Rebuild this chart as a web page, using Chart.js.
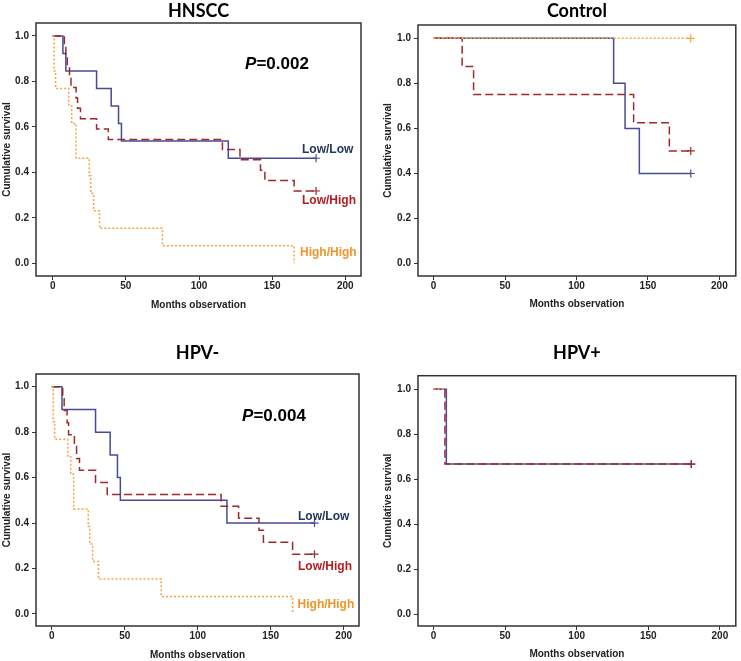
<!DOCTYPE html>
<html>
<head>
<meta charset="utf-8">
<script src="https://cdn.jsdelivr.net/npm/chart.js@4.4.1/dist/chart.umd.min.js"></script>
<style>
  body { margin: 0; background: #fff; }
  #wrap { position: relative; width: 741px; height: 661px; overflow: hidden; }
  canvas { position: absolute; }
</style>
</head>
<body>
<div id="wrap">
  <canvas id="hnscc" width="370" height="320" style="left:0;top:0;width:370px;height:320px"></canvas>
  <canvas id="control" width="371" height="320" style="left:370px;top:0;width:371px;height:320px"></canvas>
  <canvas id="hpvneg" width="370" height="341" style="left:0;top:320px;width:370px;height:341px"></canvas>
  <canvas id="hpvpos" width="371" height="341" style="left:370px;top:320px;width:371px;height:341px"></canvas>
</div>
<script>
// tick labels
const xTicks = [0, 50, 100, 150, 200];
const yTicks = [0, 0.2, 0.4, 0.6, 0.8, 1.0];
const groups = ['Low/Low', 'Low/High', 'High/High'];

// HNSCC (months, cumulative survival)
const hnsccLowLowMonths = [0, 7, 9, 30, 40, 45, 47, 120, 180];
const hnsccLowLowSurv = [1, 0.923, 0.846, 0.769, 0.692, 0.615, 0.538, 0.462, 0.462];
const hnsccLowHighMonths = [0, 8, 9, 10, 11.5, 12.5, 16, 17, 19, 30, 38, 116, 128, 142, 145, 165, 180];
const hnsccLowHighSurv = [1, 0.955, 0.909, 0.864, 0.818, 0.773, 0.727, 0.682, 0.636, 0.591, 0.545, 0.5, 0.455, 0.409, 0.364, 0.318, 0.318];
const hnsccHighHighMonths = [0, 1, 2, 11, 13, 16, 25, 26, 28, 32, 75, 165];
const hnsccHighHighSurv = [1, 0.846, 0.769, 0.692, 0.615, 0.462, 0.385, 0.308, 0.231, 0.154, 0.077, 0];

// Control
const controlLowLowMonths = [0, 126, 134, 144, 180];
const controlLowLowSurv = [1, 0.8, 0.6, 0.4, 0.4];
const controlLowHighMonths = [0, 20, 28, 140, 165, 180];
const controlLowHighSurv = [1, 0.875, 0.75, 0.625, 0.5, 0.5];
const controlHighHighMonths = [0, 180];
const controlHighHighSurv = [1, 1];

// HPV-
const hpvNegLowLowMonths = [0, 7, 30, 40, 45, 47, 120, 180];
const hpvNegLowLowSurv = [1, 0.9, 0.8, 0.7, 0.6, 0.5, 0.4, 0.4];
const hpvNegLowHighMonths = [0, 7.5, 8.5, 10.5, 11.5, 15.5, 17, 19, 30, 38, 116, 128, 142, 145, 165, 180];
const hpvNegLowHighSurv = [1, 0.947, 0.895, 0.842, 0.789, 0.737, 0.684, 0.632, 0.579, 0.526, 0.474, 0.421, 0.368, 0.316, 0.263, 0.263];
const hpvNegHighHighMonths = [0, 1, 2, 11, 13, 15, 25, 26, 28, 32, 75, 165];
const hpvNegHighHighSurv = [1, 0.846, 0.769, 0.692, 0.615, 0.462, 0.385, 0.308, 0.231, 0.154, 0.077, 0];

// HPV+
const hpvPosLowLowMonths = [0, 9, 180];
const hpvPosLowLowSurv = [1, 0.667, 0.667];
const hpvPosLowHighMonths = [0, 8, 180];
const hpvPosLowHighSurv = [1, 0.667, 0.667];
const hpvPosHighHighMonths = [0, 8];
const hpvPosHighHighSurv = [1, 1];

const BLUE = '#474b96';
const RED = '#a0282c';
const ORANGE = '#f5a440';
const axisFont = { family: 'Liberation Sans', size: 10, weight: 'bold' };

function curve(label, months, surv, color, dash, censored) {
  const last = months.length - 1;
  return {
    label: label,
    data: months.map((m, i) => ({ x: m, y: surv[i] })),
    stepped: 'before',
    borderColor: color,
    backgroundColor: color,
    borderWidth: 1.5,
    borderDash: dash,
    fill: false,
    pointStyle: 'cross',
    pointBorderWidth: 1.2,
    pointRadius: ctx => (censored && ctx.dataIndex === last) ? 4 : 0,
    pointHoverRadius: 0
  };
}

const frame = {
  id: 'frame',
  beforeDatasetsDraw(chart) {
    const { ctx, chartArea: a } = chart;
    ctx.save();
    ctx.strokeStyle = '#333';
    ctx.lineWidth = 1.5;
    ctx.strokeRect(a.left, a.top, a.right - a.left, a.bottom - a.top);
    ctx.restore();
  }
};

const notes = {
  id: 'notes',
  afterDatasetsDraw(chart, args, opts) {
    const { ctx, scales } = chart;
    (opts.items || []).forEach(n => {
      const px = scales.x.getPixelForValue(n.x);
      const py = scales.y.getPixelForValue(n.y);
      ctx.save();
      ctx.textBaseline = 'middle';
      ctx.textAlign = 'left';
      ctx.fillStyle = n.color;
      let x = px;
      if (n.italic) {
        ctx.font = 'italic bold ' + n.size + 'px "Liberation Sans"';
        ctx.fillText(n.italic, x, py);
        x += ctx.measureText(n.italic).width;
      }
      ctx.font = 'bold ' + n.size + 'px "Liberation Sans"';
      ctx.fillText(n.text, x, py);
      ctx.restore();
    });
  }
};

function makeChart(id, title, datasets, box, items) {
  new Chart(document.getElementById(id), {
    type: 'line',
    data: { datasets: datasets },
    plugins: [frame, notes],
    options: {
      responsive: false,
      animation: false,
      events: [],
      layout: { padding: { left: 0, right: box.padRight, top: 0, bottom: 0 } },
      plugins: {
        legend: { display: false },
        tooltip: { enabled: false },
        title: {
          display: true,
          text: title,
          fullSize: false,
          color: '#000',
          font: { family: 'Lato', size: 18, weight: 'bold', lineHeight: 1.2 },
          padding: { top: box.titleTop, bottom: box.titleBottom }
        },
        notes: { items: items }
      },
      scales: {
        x: {
          type: 'linear',
          min: box.xMin,
          max: box.xMax,
          afterBuildTicks: s => { s.ticks = xTicks.map(v => ({ value: v })); },
          afterFit: s => { s.height = box.xHeight; },
          border: { display: false },
          grid: { display: true, drawOnChartArea: false, drawTicks: true, tickLength: 4, color: '#333' },
          ticks: { color: '#222', font: axisFont, padding: 0, maxRotation: 0 },
          title: { display: true, text: 'Months observation', color: '#222', font: axisFont, padding: { top: 0, bottom: box.xTitlePad } }
        },
        y: {
          type: 'linear',
          min: box.yMin,
          max: box.yMax,
          afterBuildTicks: s => { s.ticks = yTicks.map(v => ({ value: v })); },
          afterFit: s => { s.width = box.yWidth; },
          border: { display: false },
          grid: { display: true, drawOnChartArea: false, drawTicks: true, tickLength: 4, color: '#333' },
          ticks: { color: '#222', font: axisFont, padding: 3, callback: v => Number(v).toFixed(1) },
          title: { display: true, text: 'Cumulative survival', color: '#222', font: axisFont, padding: { top: box.yTitlePad, bottom: 0 } }
        }
      }
    }
  });
}

function labelNotes(pText, pPos, lowLowPos, lowHighPos, highHighPos) {
  return [
    { italic: 'P', text: pText, x: pPos[0], y: pPos[1], size: 17, color: '#000' },
    { text: groups[0], x: lowLowPos[0], y: lowLowPos[1], size: 12, color: '#22375c' },
    { text: groups[1], x: lowHighPos[0], y: lowHighPos[1], size: 12, color: '#b51c22' },
    { text: groups[2], x: highHighPos[0], y: highHighPos[1], size: 12, color: '#f0952c' }
  ];
}

makeChart('hnscc', 'HNSCC', [
  curve(groups[2], hnsccHighHighMonths, hnsccHighHighSurv, ORANGE, [2, 2], false),
  curve(groups[1], hnsccLowHighMonths, hnsccLowHighSurv, RED, [8, 4], true),
  curve(groups[0], hnsccLowLowMonths, hnsccLowLowSurv, BLUE, [], true)
], { padRight: 9, xHeight: 44, yWidth: 36, titleTop: 0, titleBottom: 1.4, xTitlePad: 9, yTitlePad: 1,
     xMin: -11.4, xMax: 210.7, yMin: -0.056, yMax: 1.057 },
   labelNotes('=0.002', [131.5, 0.877], [170.4, 0.498], [170.4, 0.274], [169, 0.045]));

makeChart('control', 'Control', [
  curve(groups[2], controlHighHighMonths, controlHighHighSurv, ORANGE, [2, 2], true),
  curve(groups[1], controlLowHighMonths, controlLowHighSurv, RED, [8, 4], true),
  curve(groups[0], controlLowLowMonths, controlLowLowSurv, BLUE, [], true)
], { padRight: 3, xHeight: 44, yWidth: 48, titleTop: 0, titleBottom: 3.4, xTitlePad: 10, yTitlePad: 12,
     xMin: -10.9, xMax: 211.5, yMin: -0.055, yMax: 1.059 }, []);

makeChart('hpvneg', 'HPV-', [
  curve(groups[2], hpvNegHighHighMonths, hpvNegHighHighSurv, ORANGE, [2, 2], false),
  curve(groups[1], hpvNegLowHighMonths, hpvNegLowHighSurv, RED, [8, 4], true),
  curve(groups[0], hpvNegLowLowMonths, hpvNegLowLowSurv, BLUE, [], true)
], { padRight: 11, xHeight: 35, yWidth: 36, titleTop: 22.2, titleBottom: 10.2, xTitlePad: 0, yTitlePad: 1,
     xMin: -10.8, xMax: 210.5, yMin: -0.053, yMax: 1.056 },
   labelNotes('=0.004', [130.4, 0.868], [168.7, 0.428], [168.7, 0.208], [168.4, 0.04]));

makeChart('hpvpos', 'HPV+', [
  curve(groups[2], hpvPosHighHighMonths, hpvPosHighHighSurv, ORANGE, [2, 2], false),
  curve(groups[1], hpvPosLowHighMonths, hpvPosLowHighSurv, RED, [8, 4], true),
  curve(groups[0], hpvPosLowLowMonths, hpvPosLowLowSurv, BLUE, [], true)
], { padRight: 3, xHeight: 35, yWidth: 48, titleTop: 22.5, titleBottom: 11.6, xTitlePad: 1, yTitlePad: 12,
     xMin: -10.8, xMax: 211.1, yMin: -0.053, yMax: 1.06 }, []);
</script>
</body>
</html>
